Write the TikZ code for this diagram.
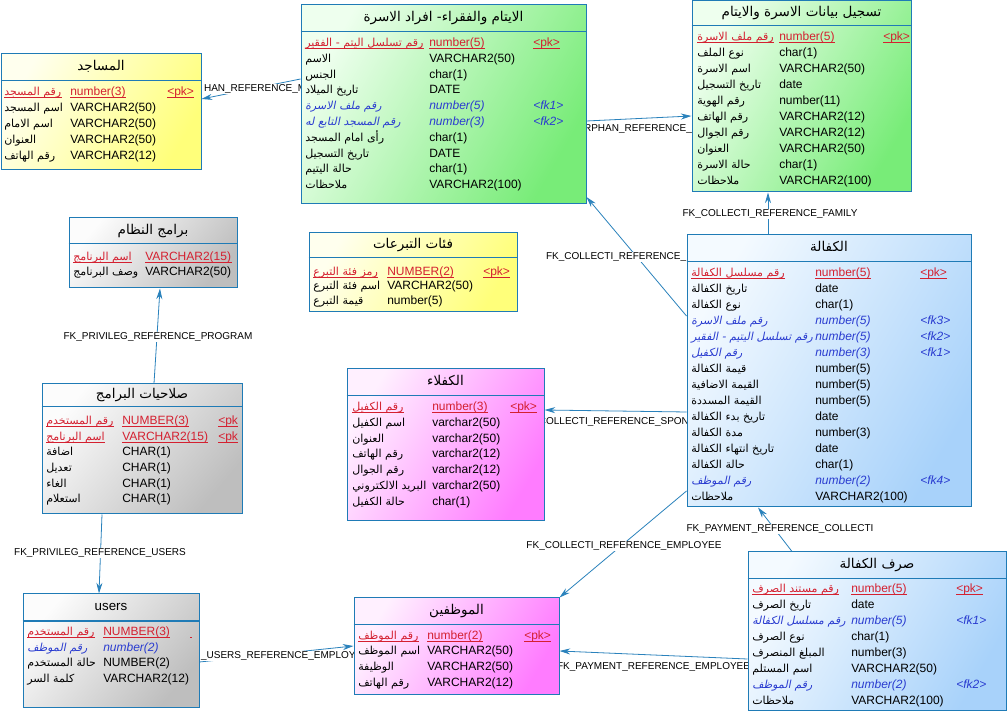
\documentclass[tikz,border=0pt]{standalone}
\usepackage{fontspec}
\setmainfont{Liberation Sans}
\newfontfamily\arabicfont[Script=Arabic,Scale=0.92,
  ItalicFont=DejaVu Sans,ItalicFeatures={FakeSlant=0.2}]{DejaVu Sans}
\TeXXeTstate=1
\usetikzlibrary{arrows.meta,positioning,calc,fit,backgrounds}

\definecolor{tabline}{HTML}{1F7BB6}
\definecolor{linkblue}{HTML}{2A82BC}
\definecolor{pkred}{HTML}{D42030}
\definecolor{fkblue}{HTML}{2A3CD0}
\definecolor{ylight}{HTML}{FFFFEE}
\definecolor{ydark}{HTML}{FFFF7A}
\definecolor{glight}{HTML}{EEFFEE}
\definecolor{gdark}{HTML}{78EC78}
\definecolor{blight}{HTML}{F4FAFF}
\definecolor{bdark}{HTML}{A8D2FA}
\definecolor{mlight}{HTML}{FFF0FF}
\definecolor{mdark}{HTML}{FF7CFF}
\definecolor{slight}{HTML}{FCFCFC}
\definecolor{sdark}{HTML}{BEBEBE}

\newcommand{\artxt}[1]{{\arabicfont\beginR#1\endR}}
% table frame with header line and title
\newcommand{\tabbox}[6]{%
  \node[tab, #2, fit={#3 #4}] (#1) {};
  \draw[tab] (#1.west |- 0,#5) -- (#1.east |- 0,#5);
  \node[tabtitle] (#1-title) at ($(#1.north)!0.5!(#1.north |- 0,#5)$) {#6};}
% attribute rows: name, type, key
\newcommand{\tabrows}[7]{%
  \foreach \nm/\ty/\ky/\st [count=\i] in {#7}{
    \node[\st] (#1-n\i) at (#4,#2+#3*\i-#3) {\artxt{\nm}};
    \node[\st] (#1-t\i) at (#5,#2+#3*\i-#3) {\ty};
    \node[\st] (#1-k\i) at (#6,#2+#3*\i-#3) {\ky};
  }}

\begin{document}
\begin{tikzpicture}[x=0.75pt, y=-0.75pt,
    tab/.style={draw=tabline, line width=0.75pt, inner sep=0pt},
    tabtitle/.style={inner sep=0pt, text height=7pt, text depth=2pt,
      font=\fontsize{11}{13}\selectfont},
    attr/.style={inner sep=0pt, anchor=base west, font=\fontsize{9}{11}\selectfont},
    pkattr/.style={attr, text=pkred, append after command={
      ([yshift=-1.6pt]\tikzlastnode.base west) edge[draw=pkred, line width=0.5pt]
      ([yshift=-1.6pt]\tikzlastnode.base east)}},
    fkattr/.style={attr, text=fkblue, font=\fontsize{9}{11}\selectfont\itshape},
    yfill/.style={left color=ylight, right color=ydark, shading angle=60},
    gfill/.style={left color=glight, right color=gdark, shading angle=60},
    bfill/.style={left color=blight, right color=bdark, shading angle=60},
    mfill/.style={left color=mlight, right color=mdark, shading angle=60},
    sfill/.style={left color=slight, right color=sdark, shading angle=50},
    fkline/.style={draw=linkblue, line width=0.6pt, -{Stealth[length=8pt, width=4.5pt]}},
    fklabel/.style={fill=white, inner sep=0.6pt, font=\fontsize{7.5}{9}\selectfont}]
\useasboundingbox (0,0) rectangle (1007,712);

% tables
\tabbox{mosque}{yfill}{(1,54)}{(201,170)}{81}{\artxt{المساجد}}
\tabrows{mosque}{95.5}{16.1}{4}{70}{167}{%
  رقم المسجد/number(3)/<pk>/pkattr,
  اسم المسجد/VARCHAR2(50)//attr,
  اسم الامام/VARCHAR2(50)//attr,
  العنوان/VARCHAR2(50)//attr,
  رقم الهاتف/VARCHAR2(12)//attr}

\tabbox{orphan}{gfill}{(301,5)}{(586,204)}{32}{\artxt{الايتام والفقراء- افراد الاسرة}}
\tabrows{orphan}{46.5}{15.8}{305}{429}{533}{%
  رقم تسلسل اليتم - الفقير/number(5)/<pk>/pkattr,
  الاسم/VARCHAR2(50)//attr,
  الجنس/char(1)//attr,
  تاريخ الميلاد/DATE//attr,
  رقم ملف الاسرة/number(5)/<fk1>/fkattr,
  رقم المسجد التابع له/number(3)/<fk2>/fkattr,
  رأى امام المسجد/char(1)//attr,
  تاريخ التسجيل/DATE//attr,
  حالة اليتيم/char(1)//attr,
  ملاحظات/VARCHAR2(100)//attr}

\tabbox{family}{gfill}{(692,1)}{(911,192)}{26}{\artxt{تسجيل بيانات الاسرة والايتام}}
\tabrows{family}{40.5}{16.03}{697}{779}{883}{%
  رقم ملف الاسرة/number(5)/<pk>/pkattr,
  نوع الملف/char(1)//attr,
  اسم الاسرة/VARCHAR2(50)//attr,
  تاريخ التسجيل/date//attr,
  رقم الهوية/number(11)//attr,
  رقم الهاتف/VARCHAR2(12)//attr,
  رقم الجوال/VARCHAR2(12)//attr,
  العنوان/VARCHAR2(50)//attr,
  حالة الاسرة/char(1)//attr,
  ملاحظات/VARCHAR2(100)//attr}

\tabbox{program}{sfill}{(69,218)}{(237,288)}{244}{\artxt{برامج النظام}}
\tabrows{program}{260.5}{15}{73}{145}{230}{%
  اسم البرنامج/VARCHAR2(15)//pkattr,
  وصف البرنامج/VARCHAR2(50)//attr}

\tabbox{donation}{yfill}{(309,233)}{(517,312)}{258}{\artxt{فئات التبرعات}}
\tabrows{donation}{275.5}{14.3}{313}{387}{483}{%
  رمز فئة التبرع/NUMBER(2)/<pk>/pkattr,
  اسم فئة التبرع/VARCHAR2(50)//attr,
  قيمة التبرع/number(5)//attr}

\tabbox{privilege}{sfill}{(42,384)}{(242,514)}{407}{\artxt{صلاحيات البرامج}}
\tabrows{privilege}{424.5}{15.7}{46}{122}{218}{%
  رقم المستخدم/NUMBER(3)/<pk/pkattr,
  اسم البرنامج/VARCHAR2(15)/<pk/pkattr,
  اضافة/CHAR(1)//attr,
  تعديل/CHAR(1)//attr,
  الغاء/CHAR(1)//attr,
  استعلام/CHAR(1)//attr}

\tabbox{sponsor}{mfill}{(347,369)}{(544,521)}{396}{\artxt{الكفلاء}}
\tabrows{sponsor}{410.5}{15.83}{352}{432}{510}{%
  رقم الكفيل/number(3)/<pk>/pkattr,
  اسم الكفيل/varchar2(50)//attr,
  العنوان/varchar2(50)//attr,
  رقم الهاتف/varchar2(12)//attr,
  رقم الجوال/varchar2(12)//attr,
  البريد الالكتروني/varchar2(50)//attr,
  حالة الكفيل/char(1)//attr}

\tabbox{collect}{bfill}{(687,235)}{(971,507)}{262}{\artxt{الكفالة}}
\tabrows{collect}{276.5}{16}{691}{815}{920}{%
  رقم مسلسل الكفالة/number(5)/<pk>/pkattr,
  تاريخ الكفالة/date//attr,
  نوع الكفالة/char(1)//attr,
  رقم ملف الاسرة/number(5)/<fk3>/fkattr,
  رقم تسلسل اليتيم - الفقير/number(5)/<fk2>/fkattr,
  رقم الكفيل/number(3)/<fk1>/fkattr,
  قيمة الكفالة/number(5)//attr,
  القيمة الاضافية/number(5)//attr,
  القيمة المسددة/number(5)//attr,
  تاريخ بدء الكفالة/date//attr,
  مدة الكفالة/number(3)//attr,
  تاريخ انتهاء الكفالة/date//attr,
  حالة الكفالة/char(1)//attr,
  رقم الموظف/number(2)/<fk4>/fkattr,
  ملاحظات/VARCHAR2(100)//attr}

\tabbox{users}{sfill}{(23,594)}{(199,707)}{621}{\fontsize{10}{12}\selectfont users}
\tabrows{users}{635.5}{15.5}{27}{103}{190}{%
  رقم المستخدم/NUMBER(3)//pkattr,
  رقم الموظف/number(2)//fkattr,
  حالة المستخدم/NUMBER(2)//attr,
  كلمة السر/VARCHAR2(12)//attr}

\tabbox{employee}{mfill}{(354,598)}{(559,694)}{624}{\artxt{الموظفين}}
\tabrows{employee}{639}{15.8}{358}{427}{524}{%
  رقم الموظف/number(2)/<pk>/pkattr,
  اسم الموظف/VARCHAR2(50)//attr,
  الوظيفة/VARCHAR2(50)//attr,
  رقم الهاتف/VARCHAR2(12)//attr}

\tabbox{payment}{bfill}{(748,552)}{(1006,710)}{579}{\artxt{صرف الكفالة}}
\tabrows{payment}{592.3}{15.96}{752}{851}{956}{%
  رقم مستند الصرف/number(5)/<pk>/pkattr,
  تاريخ الصرف/date//attr,
  رقم مسلسل الكفالة/number(5)/<fk1>/fkattr,
  نوع الصرف/char(1)//attr,
  المبلغ المنصرف/number(3)//attr,
  اسم المستلم/VARCHAR2(50)//attr,
  رقم الموظف/number(2)/<fk2>/fkattr,
  ملاحظات/VARCHAR2(100)//attr}

% references
\begin{scope}[on background layer]
\fill[white] (0,0) rectangle (1007,712);
\draw[fkline] (orphan.west |- 0,79) -- (mosque.east |- 0,99);
\draw[fkline] (orphan.east |- 0,121) -- (family.west |- 0,116);
\draw[fkline] (collect.north -| 768,0) -- (family.south -| 768,0);
\draw[fkline] (collect.west |- 0,316) -- (orphan.east |- 0,197);
\draw[fkline] (collect.west |- 0,412) -- (sponsor.east |- 0,410);
\draw[fkline] (collect.west |- 0,491) -- (employee.north east);
\draw[fkline] (payment.north -| 792,0) -- (collect.south -| 758,0);
\draw[fkline] (payment.west |- 0,659) -- (employee.east |- 0,651);
\draw[fkline] (users.east |- 0,662) -- (employee.west |- 0,646);
\draw[fkline] (privilege.north -| 154,0) -- (program.south -| 160,0);
\draw[fkline] (privilege.south -| 102,0) -- (users.north -| 99,0);

\node[fklabel, anchor=west] (l-mosque) at (203,89) {HAN\_REFERENCE\_M};
\node[fklabel, anchor=west] (l-family) at (583,129) {RPHAN\_REFERENCE\_F};
\node[fklabel] (l-cfamily) at (770,214) {FK\_COLLECTI\_REFERENCE\_FAMILY};
\node[fklabel, anchor=west] (l-corphan) at (545,257) {FK\_COLLECTI\_REFERENCE\_};
\node[fklabel, anchor=east] (l-csponsor) at (690,422) {COLLECTI\_REFERENCE\_SPON};
\node[fklabel] (l-cemployee) at (624,546) {FK\_COLLECTI\_REFERENCE\_EMPLOYEE};
\node[fklabel] (l-pcollect) at (780,529) {FK\_PAYMENT\_REFERENCE\_COLLECTI};
\node[fklabel, anchor=west] (l-pemployee) at (556,667) {FK\_PAYMENT\_REFERENCE\_EMPLOYEE};
\node[fklabel, anchor=west] (l-uemployee) at (200,656) {\_USERS\_REFERENCE\_EMPLOY};
\node[fklabel] (l-program) at (158,337) {FK\_PRIVILEG\_REFERENCE\_PROGRAM};
\node[fklabel] (l-users) at (100,553) {FK\_PRIVILEG\_REFERENCE\_USERS};
\end{scope}
\end{tikzpicture}
\end{document}
